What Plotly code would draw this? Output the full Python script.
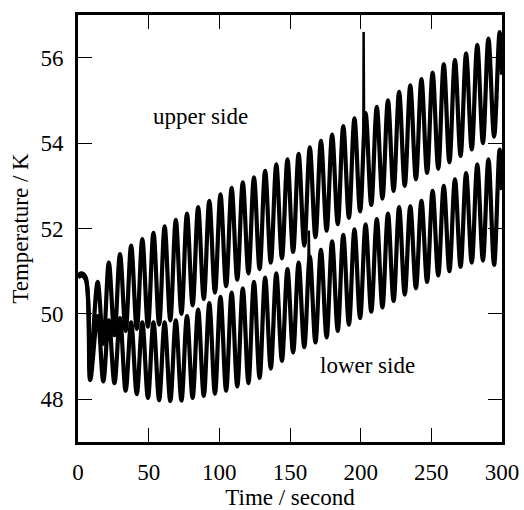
import plotly.graph_objects as go

# Sample times (s) at the turning points of the oscillation, shared by both sensors
time_s = [0.0, 2.5, 5.5, 8.6,
          13.9, 17.9, 21.8, 25.8, 29.7, 33.7, 37.6, 41.6, 45.5, 49.5,
          53.4, 57.4, 61.3, 65.3, 69.2, 73.2, 77.1, 81.1, 85.0, 89.0,
          92.9, 96.9, 100.8, 104.8, 108.7, 112.7, 116.6, 120.6, 124.5, 128.5,
          132.4, 136.4, 140.3, 144.3, 148.2, 152.2, 156.1, 160.1, 164.0, 168.0,
          171.9, 175.9, 179.8, 183.8, 187.7, 191.7, 195.6, 199.6, 203.5, 207.5,
          211.4, 215.4, 219.3, 223.3, 227.2, 231.2, 235.1, 239.1, 243.0, 247.0,
          250.9, 254.9, 258.8, 262.8, 266.7, 270.7, 274.6, 278.6, 282.5, 286.5,
          290.4, 294.4, 298.3, 300.0]

# Temperature on the upper side (K)
upper_temp = [50.9, 50.95, 50.85, 48.7,
              50.75, 49.3, 51.2, 49.5, 51.4, 49.6, 51.6, 49.65, 51.75, 49.7,
              51.9, 49.75, 52.05, 49.85, 52.2, 50.0, 52.35, 50.2, 52.5, 50.35,
              52.65, 50.5, 52.8, 50.65, 52.95, 50.8, 53.08, 50.95, 53.2, 51.05,
              53.35, 51.2, 53.5, 51.3, 53.62, 51.45, 53.75, 51.6, 53.9, 51.8,
              54.05, 51.95, 54.2, 52.1, 54.4, 52.25, 54.58, 52.4, 54.7, 52.55,
              54.85, 52.7, 55.0, 52.88, 55.2, 53.0, 55.35, 53.15, 55.5, 53.3,
              55.65, 53.4, 55.85, 53.55, 55.95, 53.7, 56.1, 53.85, 56.3, 54.0,
              56.45, 54.15, 56.6, 55.6]

# Temperature on the lower side (K)
lower_temp = [50.85, 50.9, 50.8, 48.45,
              49.95, 48.42, 49.85, 48.38, 49.9, 48.2, 49.8, 48.12, 49.8, 48.03,
              49.8, 47.98, 49.8, 47.96, 49.85, 47.97, 49.95, 48.03, 50.1, 48.08,
              50.25, 48.13, 50.4, 48.2, 50.5, 48.3, 50.6, 48.38, 50.75, 48.5,
              50.85, 48.72, 50.95, 48.9, 51.05, 49.1, 51.2, 49.22, 51.35, 49.33,
              51.5, 49.45, 51.7, 49.6, 51.85, 49.75, 51.98, 49.9, 52.1, 50.05,
              52.22, 50.15, 52.35, 50.3, 52.5, 50.45, 52.52, 50.6, 52.65, 50.75,
              52.88, 50.9, 53.0, 51.0, 53.15, 51.1, 53.3, 51.2, 53.5, 51.25,
              53.62, 51.15, 53.85, 52.9]

# Short transient spikes in each record
upper_spike_t = [201.9, 202.1, 202.4]
upper_spike_v = [54.0, 56.6, 54.5]
lower_spike_t = [163.1, 163.3, 163.6]
lower_spike_v = [51.3, 51.95, 51.3]

x_ticks = [0, 50, 100, 150, 200, 250, 300]
y_ticks = [48, 50, 52, 54, 56]

FONT = "Liberation Serif"
LW = 4.2

fig = go.Figure()
fig.add_trace(go.Scatter(x=time_s, y=upper_temp, mode="lines",
                         line=dict(color="black", width=LW, shape="spline", smoothing=1.0)))
fig.add_trace(go.Scatter(x=time_s, y=lower_temp, mode="lines",
                         line=dict(color="black", width=LW, shape="spline", smoothing=1.0)))
fig.add_trace(go.Scatter(x=upper_spike_t, y=upper_spike_v, mode="lines",
                         line=dict(color="black", width=2.5)))
fig.add_trace(go.Scatter(x=lower_spike_t, y=lower_spike_v, mode="lines",
                         line=dict(color="black", width=2.5)))

axis_common = dict(
    showgrid=False, zeroline=False, automargin=False,
    showline=True, linecolor="black", linewidth=3, mirror="ticks",
    ticks="inside", ticklen=14, tickwidth=1, tickcolor="black",
    tickfont=dict(family=FONT, size=23, color="black"),
)

fig.update_layout(
    width=524, height=510,
    margin=dict(l=78, r=22, t=15, b=68),
    paper_bgcolor="white", plot_bgcolor="white",
    showlegend=False,
    font=dict(family=FONT, size=23, color="black"),
    xaxis=dict(range=[0, 300], tickvals=x_ticks, ticklabelstandoff=7,
               title=dict(text="Time / second",
                          font=dict(family=FONT, size=23, color="black"), standoff=10),
               **axis_common),
    yaxis=dict(range=[47, 57], tickvals=y_ticks, ticklabelstandoff=7,
               title=dict(text="Temperature / K",
                          font=dict(family=FONT, size=23, color="black"), standoff=6),
               **axis_common),
    annotations=[
        dict(x=86.5, y=54.63, text="upper side", showarrow=False,
             font=dict(family=FONT, size=23, color="black")),
        dict(x=205, y=48.8, text="lower side", showarrow=False,
             font=dict(family=FONT, size=23, color="black")),
    ],
)

fig.write_html("out.html")
